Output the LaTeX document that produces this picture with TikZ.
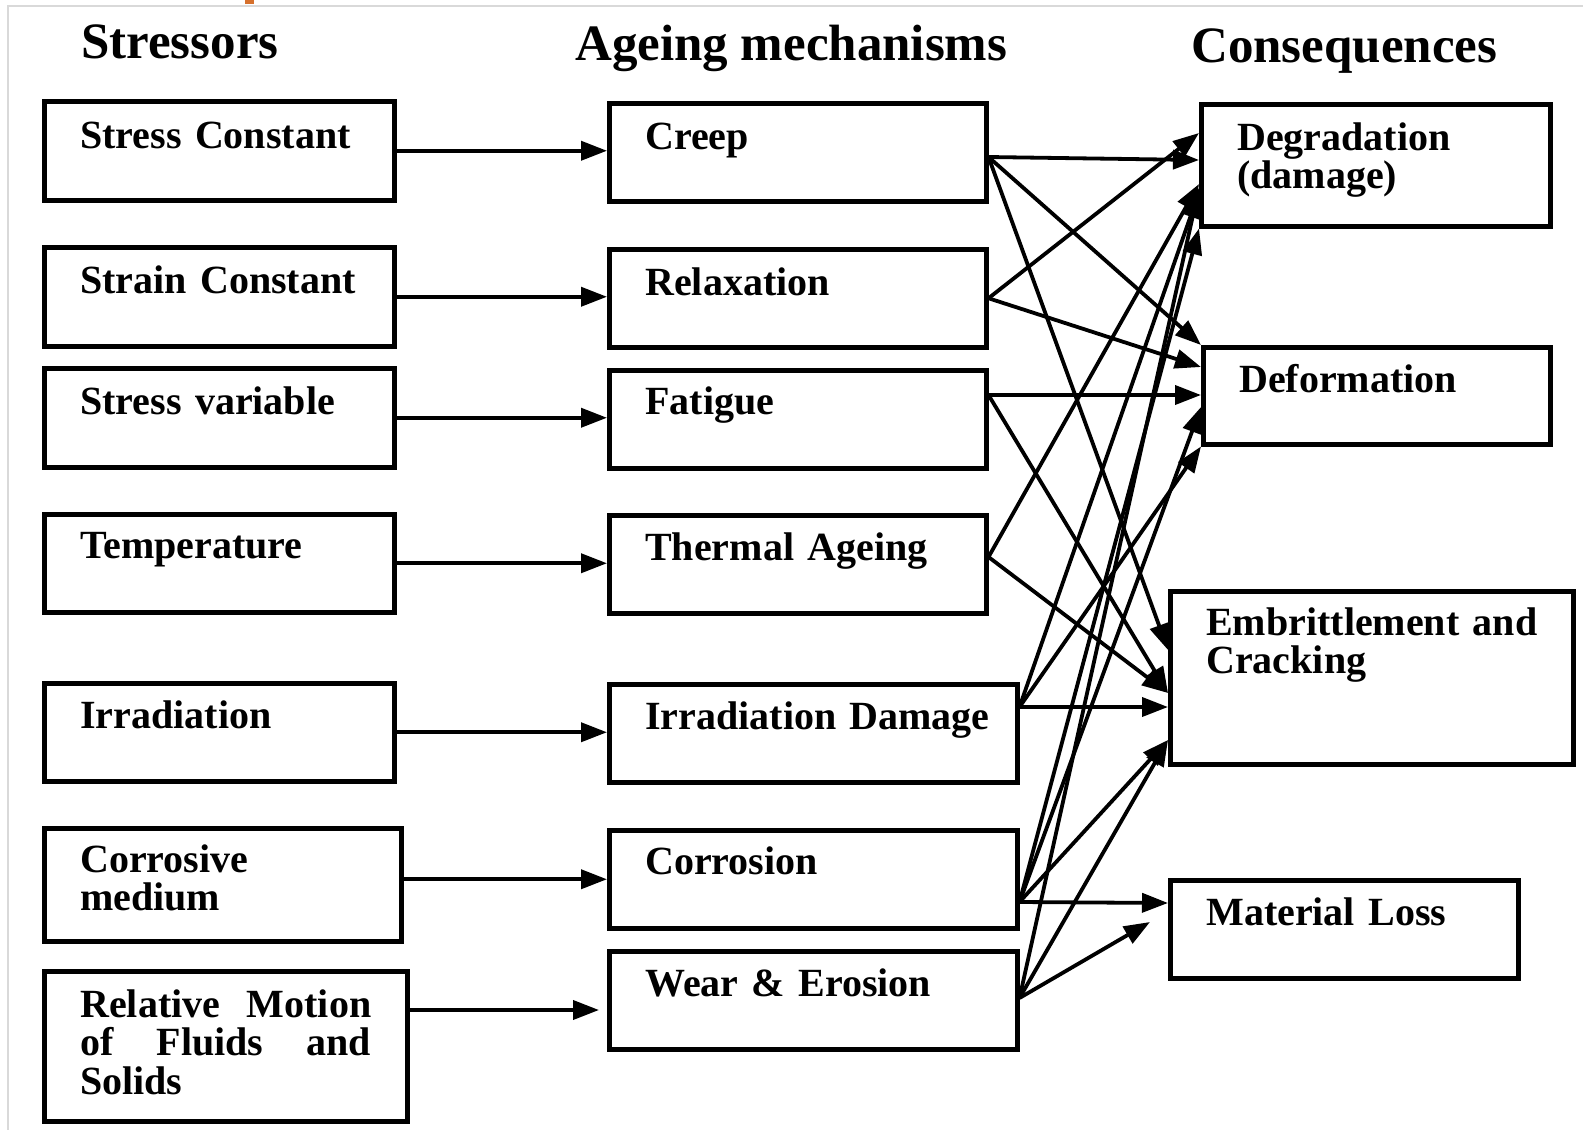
\documentclass[tikz,border=0pt]{standalone}
\usepackage{fontspec}
\setmainfont{Liberation Serif}
\usepackage{tikz}
\usetikzlibrary{arrows.meta}
\usetikzlibrary{calc}
\usepackage{xcolor}

\definecolor{slideorange}{RGB}{214,112,44}
\newcommand{\boxtxt}{\fontsize{40}{38.5}\selectfont\bfseries}
\newcommand{\headtxt}{\fontsize{51}{55}\selectfont\bfseries}

\tikzset{
  box/.style={draw, line width=4.5pt, anchor=north west, align=left,
    inner xsep=36pt, inner ysep=0pt, text height=45pt, text depth=53pt,
    font=\boxtxt},
  head/.style={anchor=base west, inner sep=0pt, font=\headtxt},
  link/.style={line width=3.8pt, -{Triangle[length=26pt,width=19pt]}},
}

\begin{document}
\begin{tikzpicture}[x=1pt,y=-1pt]
        \useasboundingbox (0,0) rectangle (1583,1130);
        % slide frame
        \draw[line width=2pt, black!15] (8,1130) -- (8,6) -- (1583,6);
        \fill[slideorange] (245,0) rectangle (254,4);

        % headings
        \node[head] (hstress) at (81,58) {Stressors};
        \node[head] (hmech) at (575,60) {Ageing mechanisms};
        \node[head] (hcons) at (1191,62) {Consequences};

        % stressors
        \node[box, text width=278pt, text height=47pt, text depth=52pt] (stressc) at (42,99) {Stress Constant};
        \node[box, text width=278pt, text height=46pt] (strainc) at (42,245) {Strain Constant};
        \node[box, text width=278pt, text height=46pt] (stressv) at (42,366) {Stress variable};
        \node[box, text width=278pt, text height=44pt, text depth=54pt] (temp) at (42,512) {Temperature};
        \node[box, text width=278pt] (irr) at (42,681) {Irradiation};
        \node[box, text width=285pt, text height=44pt, text depth=69pt] (corrm) at (42,826) {Corrosive\\medium};
        \node[box, text width=291pt, text height=46pt, text depth=104pt] (relm) at (42,969) {Relative\hfill Motion\\of\hfill Fluids\hfill and\\Solids};

        % ageing mechanisms
        \node[box, text width=305pt, text height=46pt, text depth=52pt] (creep) at (607,101) {Creep};
        \node[box, text width=305pt, text height=46pt, text depth=52pt] (relax) at (607,247) {Relaxation};
        \node[box, text width=305pt, text height=44pt, text depth=54pt] (fatigue) at (607,368) {Fatigue};
        \node[box, text width=305pt] (thermal) at (607,513) {Thermal Ageing};
        \node[box, text width=336pt] (irrd) at (607,682) {\mbox{Irradiation Damage}};
        \node[box, text width=336pt, text height=44pt, text depth=54pt] (corr) at (607,828) {Corrosion};
        \node[box, text width=336pt] (wear) at (607,949) {Wear \& Erosion};

        % consequences
        \node[box, text width=277pt, text height=46pt, text depth=76pt] (degr) at (1199,102) {Degradation\\(damage)};
        \node[box, text width=275pt, text depth=52pt] (deform) at (1201,345) {Deformation};
        \node[box, text width=331pt, text height=44pt, text depth=129pt] (embr) at (1168,589) {Embrittlement\hfill and\\Cracking};
        \node[box, text width=276pt] (matl) at (1168,878) {Material Loss};

        % stressors -> mechanisms
        \draw[link] (stressc.east) -- (stressc.east -| creep.west);
        \draw[link] (strainc.east) -- (strainc.east -| relax.west);
        \draw[link] (stressv.east) -- (stressv.east -| fatigue.west);
        \draw[link] (temp.east) -- (temp.east -| thermal.west);
        \draw[link] (irr.east) -- (irr.east -| irrd.west);
        \draw[link] (corrm.east |- corr.west) -- (corr.west);
        \draw[link] ($(relm.north east)+(0,41)$) -- ($(wear.north west)+(-8,61)$);

        % mechanisms -> consequences
        \draw[link] ($(creep.north east)+(0,56)$) -- ($(degr.north west)+(0,58)$);
        \draw[link] ($(creep.north east)+(0,56)$) -- (deform.north west);
        \draw[link] ($(creep.north east)+(0,56)$) -- ($(embr.north west)+(0,61)$);
        \draw[link] (relax.east) -- ($(degr.north west)+(0,31)$);
        \draw[link] (relax.east) -- ($(deform.north west)+(0,22)$);
        \draw[link] ($(fatigue.north east)+(0,27)$) -- ($(deform.north west)+(0,50)$);
        \draw[link] ($(fatigue.north east)+(0,27)$) -- ($(embr.north west)+(0,104)$);
        \draw[link] ($(thermal.north east)+(0,44)$) -- ($(degr.north west)+(0,82)$);
        \draw[link] ($(thermal.north east)+(0,44)$) -- ($(embr.north west)+(0,104)$);
        \draw[link] ($(irrd.north east)+(0,25)$) -- ($(degr.north west)+(0,90)$);
        \draw[link] ($(irrd.north east)+(0,25)$) -- (deform.south west);
        \draw[link] ($(irrd.north east)+(0,25)$) -- ($(embr.north west)+(0,118)$);
        \draw[link] ($(corr.north east)+(0,74)$) -- (degr.south west);
        \draw[link] ($(corr.north east)+(0,74)$) -- ($(deform.north west)+(0,62)$);
        \draw[link] ($(corr.north east)+(0,74)$) -- ($(embr.north west)+(0,151)$);
        \draw[link] ($(corr.north east)+(0,74)$) -- ($(matl.north west)+(0,25)$);
        \draw[link] ($(wear.north east)+(0,49)$) -- ($(degr.north west)+(0,86)$);
        \draw[link] ($(wear.north east)+(0,49)$) -- ($(embr.north west)+(0,151)$);
        \draw[link] ($(wear.north east)+(0,49)$) -- ($(matl.north west)+(-18,44)$);
\end{tikzpicture}
\end{document}
